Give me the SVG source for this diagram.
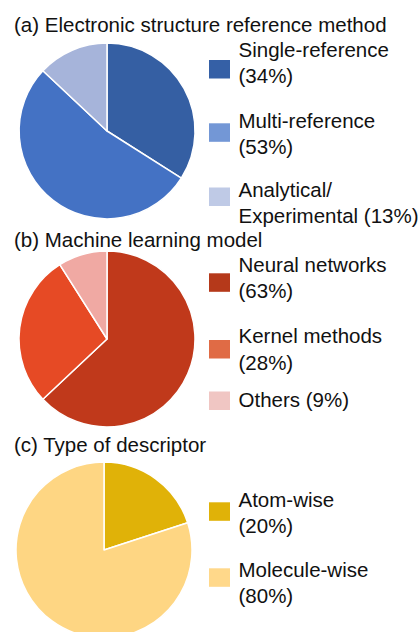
<svg xmlns="http://www.w3.org/2000/svg" width="419" height="632" viewBox="0 0 419 632">
<style>
text{font-family:"Liberation Sans",Arial,sans-serif;font-size:20.5px;fill:#111}
.sl{stroke:#fff;stroke-width:1.5;stroke-linejoin:round}
</style>
<rect width="419" height="632" fill="#fff"/>
<g id="chart-a">
<text x="14" y="32">(a) Electronic structure reference method</text>
<g id="pie-a">
<path class="sl" fill="#355FA3" d="M107,131 L107,43 A88,88 0 0 1 181.3,178.2 Z"/>
<path class="sl" fill="#4472C4" d="M107,131 L181.3,178.2 A88,88 0 1 1 42.9,70.7 Z"/>
<path class="sl" fill="#A6B4DA" d="M107,131 L42.9,70.7 A88,88 0 0 1 107,43 Z"/>
</g>
<g id="legend-a1"><rect x="209" y="60" width="21" height="18.5" fill="#3560A6"/><text x="238.5" y="57">Single-reference</text><text x="238.5" y="83">(34%)</text></g>
<g id="legend-a2"><rect x="209" y="123.3" width="21" height="18.5" fill="#7397D6"/><text x="238.5" y="128">Multi-reference</text><text x="238.5" y="153.5">(53%)</text></g>
<g id="legend-a3"><rect x="209" y="187.5" width="21" height="18.5" fill="#BFCAE6"/><text x="238.5" y="197">Analytical/</text><text x="238.5" y="223">Experimental (13%)</text></g>
</g>
<g id="chart-b">
<text x="14" y="246.7">(b) Machine learning model</text>
<g id="pie-b">
<path class="sl" fill="#C0391B" d="M107,339 L107,251 A88,88 0 1 1 42.9,399.3 Z"/>
<path class="sl" fill="#E64A25" d="M107,339 L42.9,399.3 A88,88 0 0 1 59.8,264.7 Z"/>
<path class="sl" fill="#F0A9A3" d="M107,339 L59.8,264.7 A88,88 0 0 1 107,251 Z"/>
</g>
<g id="legend-b1"><rect x="209" y="273.3" width="21" height="18.5" fill="#B5391A"/><text x="238.5" y="271.7">Neural networks</text><text x="238.5" y="297.7">(63%)</text></g>
<g id="legend-b2"><rect x="209" y="340" width="21" height="18.5" fill="#E06B45"/><text x="238.5" y="343.3">Kernel methods</text><text x="238.5" y="370">(28%)</text></g>
<g id="legend-b3"><rect x="209" y="391.5" width="21" height="18.5" fill="#F0C6C3"/><text x="238.5" y="406.7">Others (9%)</text></g>
</g>
<g id="chart-c">
<text x="14" y="451.7">(c) Type of descriptor</text>
<g id="pie-c">
<path class="sl" fill="#E0B208" d="M104,550 L104,462 A88,88 0 0 1 187.7,522.8 Z"/>
<path class="sl" fill="#FED683" d="M104,550 L187.7,522.8 A88,88 0 1 1 104,462 Z"/>
</g>
<g id="legend-c1"><rect x="209" y="502.3" width="21" height="18.5" fill="#E0B208"/><text x="238.5" y="506.7">Atom-wise</text><text x="238.5" y="532.7">(20%)</text></g>
<g id="legend-c2"><rect x="209" y="568.3" width="21" height="18.5" fill="#FFD88A"/><text x="238.5" y="576.7">Molecule-wise</text><text x="238.5" y="602.7">(80%)</text></g>
</g>
</svg>
